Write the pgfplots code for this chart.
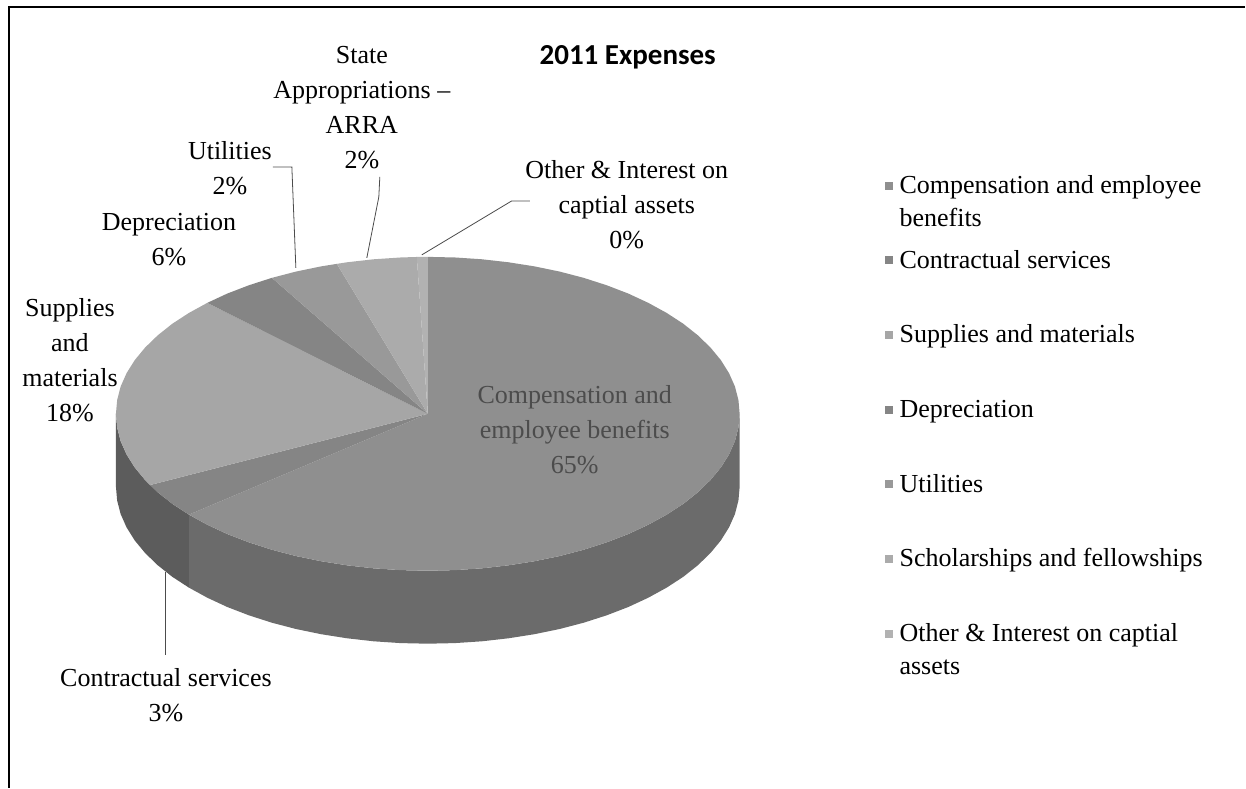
\documentclass[border=0pt]{standalone}
\usepackage{pgfplots}
\pgfplotsset{compat=1.18}
\usepackage{fontspec}
\setmainfont{Liberation Serif}
\newfontfamily\titlefont{Carlito}
\definecolor{cComp}{gray}{0.56}
\definecolor{cCont}{gray}{0.52}
\definecolor{cSupp}{gray}{0.65}
\definecolor{cDepr}{gray}{0.52}
\definecolor{cUtil}{gray}{0.60}
\definecolor{cScho}{gray}{0.67}
\definecolor{cOthr}{gray}{0.70}
\definecolor{cSideA}{gray}{0.42}
\definecolor{cSideB}{gray}{0.36}
\newcommand{\lab}[2]{\parbox[c][74.67pt][t]{335pt}{\strut #1\ifx&#2&\else\newline\strut #2\fi}}
\begin{document}
\begin{tikzpicture}
\path (0pt,0pt) rectangle (1246pt,788pt);
\begin{axis}[
  scale only axis, width=1246pt, height=788pt,
  at={(0pt,0pt)}, anchor=south west,
  xmin=0, xmax=1246, ymin=0, ymax=788, y dir=reverse,
  hide axis, clip=false,
  legend style={at={(axis cs:885,170.5)}, anchor=north west, draw=none, fill=none,
    row sep=0pt, inner sep=0pt, outer sep=0pt,
    font=\fontsize{26}{33}\selectfont, nodes={inner sep=0pt, outer sep=0pt, text depth=}},
  legend cell align=left,
  legend image code/.code={\path (0pt,-30pt) (15pt,30pt);\fill[#1] (0pt,18pt) rectangle (8pt,26pt);},
  font=\fontsize{26}{34}\selectfont,
]
% sides (no legend entries)
\addplot[fill=cSideA, draw=none, forget plot] coordinates {
 (740,414)(738.8,427.7)(735.3,441.3)(729.4,454.6)(721.2,467.7)(710.8,480.3)(698.2,492.5)(683.6,504.1)(667,514.9)(648.6,525)(628.6,534.3)(607,542.6)(584,550)(559.9,556.3)(534.7,561.5)(508.7,565.6)(482.2,568.6)(455.2,570.4)(428,571)(400.8,570.4)(373.8,568.6)(347.3,565.6)(321.3,561.5)(296.1,556.3)(272,550)(249,542.6)(227.4,534.3)(207.4,525)(189,514.9)
 (189,587.9)(207.4,598)(227.4,607.3)(249,615.6)(272,623)(296.1,629.3)(321.3,634.5)(347.3,638.6)(373.8,641.6)(400.8,643.4)(428,644)(455.2,643.4)(482.2,641.6)(508.7,638.6)(534.7,634.5)(559.9,629.3)(584,623)(607,615.6)(628.6,607.3)(648.6,598)(667,587.9)(683.6,577.1)(698.2,565.5)(710.8,553.3)(721.2,540.7)(729.4,527.6)(735.3,514.3)(738.8,500.7)(740,487)} --cycle;
\addplot[fill=cSideB, draw=none, forget plot] coordinates {
 (189,514.9)(172.4,504.1)(157.8,492.5)(145.2,480.3)(134.8,467.7)(126.6,454.6)(120.7,441.3)(117.2,427.7)(116,414)
 (116,487)(117.2,500.7)(120.7,514.3)(126.6,527.6)(134.8,540.7)(145.2,553.3)(157.8,565.5)(172.4,577.1)(189,587.9)} --cycle;
% top faces, in legend order
\addplot[fill=cComp, draw=none] coordinates {
 (428,414)(428,257)(455.2,257.6)(482.2,259.4)(508.7,262.4)(534.7,266.5)(559.9,271.7)(584,278)(607,285.4)(628.6,293.7)(648.6,303)(667,313.1)(683.6,323.9)(698.2,335.5)(710.8,347.7)(721.2,360.3)(729.4,373.4)(735.3,386.7)(738.8,400.3)(740,414)(738.8,427.7)(735.3,441.3)(729.4,454.6)(721.2,467.7)(710.8,480.3)(698.2,492.5)(683.6,504.1)(667,514.9)(648.6,525)(628.6,534.3)(607,542.6)(584,550)(559.9,556.3)(534.7,561.5)(508.7,565.6)(482.2,568.6)(455.2,570.4)(428,571)(400.8,570.4)(373.8,568.6)(347.3,565.6)(321.3,561.5)(296.1,556.3)(272,550)(249,542.6)(227.4,534.3)(207.4,525)(189,514.9)} --cycle;
\addplot[fill=cCont, draw=none] coordinates {
 (428,414)(189,514.9)(172.4,504.1)(157.8,492.5)(150,485.3)} --cycle;
\addplot[fill=cSupp, draw=none] coordinates {
 (428,414)(150,485.3)(145.2,480.3)(134.8,467.7)(126.6,454.6)(120.7,441.3)(117.2,427.7)(116,414)(117.2,400.3)(120.7,386.7)(126.6,373.4)(134.8,360.3)(145.2,347.7)(157.8,335.5)(172.4,323.9)(189,313.1)(207.4,303)} --cycle;
\addplot[fill=cDepr, draw=none] coordinates {
 (428,414)(207.4,303)(227.4,293.7)(249,285.4)(272,278)} --cycle;
\addplot[fill=cUtil, draw=none] coordinates {
 (428,414)(272,278)(296.1,271.7)(321.3,266.5)(337,264)} --cycle;
\addplot[fill=cScho, draw=none] coordinates {
 (428,414)(337,264)(347.3,262.4)(373.8,259.4)(400.8,257.6)(417,257.1)} --cycle;
\addplot[fill=cOthr, draw=none] coordinates {
 (428,414)(417,257.1)(428,257)} --cycle;
% leader lines
\addplot[black!70, line width=0.8pt, forget plot] coordinates {(273,167)(292,167)(296,268)};
\addplot[black!70, line width=0.8pt, forget plot] coordinates {(380,177)(379,197)(367,258)};
\addplot[black!70, line width=0.8pt, forget plot] coordinates {(530,201)(512,201)(422,255)};
\addplot[black!70, line width=0.8pt, forget plot] coordinates {(165,572)(165,655)};
% frame
\addplot[black, line width=1.2pt, forget plot] coordinates {(9,788)(9,7)(1246,7)};
\legend{\lab{Compensation and employee}{benefits},\lab{Contractual services}{},\lab{Supplies and materials}{},\lab{Depreciation}{},\lab{Utilities}{},\lab{Scholarships and fellowships}{},\lab{Other \& Interest on captial}{assets}}
% data labels
\tikzset{dl/.style={align=center, inner sep=0pt, anchor=north, font=\fontsize{26}{35}\selectfont}}
\node[dl] at (axis cs:362,46) {State\\Appropriations --\\ARRA\\2\%};
\node[dl] at (axis cs:230,141) {Utilities\\2\%};
\node[dl] at (axis cs:169,213) {Depreciation\\6\%};
\node[dl] at (axis cs:70,298) {Supplies\\and\\materials\\18\%};
\node[dl] at (axis cs:627,160) {Other \& Interest on\\captial assets\\0\%};
\node[dl, text=black!70] at (axis cs:575,385) {Compensation and\\employee benefits\\65\%};
\node[dl] at (axis cs:166,669) {Contractual services\\3\%};
\node[anchor=center, inner sep=0pt, font=\titlefont\bfseries\fontsize{29}{32}\selectfont] at (axis cs:628,57) {2011 Expenses};
\end{axis}
\end{tikzpicture}
\end{document}
